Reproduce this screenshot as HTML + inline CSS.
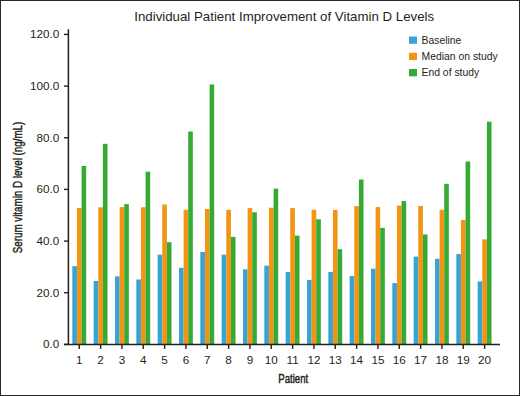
<!DOCTYPE html>
<html><head><meta charset="utf-8"><style>
html,body{margin:0;padding:0;background:#fff;}
body{width:520px;height:396px;overflow:hidden;position:relative;}
svg{position:absolute;left:0;top:0;}
text{font-family:"Liberation Sans",sans-serif;fill:#231F20;}
</style></head><body>
<svg width="520" height="396" viewBox="0 0 520 396">
<rect x="0.5" y="0.5" width="519" height="395" fill="#fff" stroke="#2a2a2a" stroke-width="1"/>
<text x="284.2" y="21.3" text-anchor="middle" font-size="13.27">Individual Patient Improvement of Vitamin D Levels</text>
<g><rect x="72.32" y="266.20" width="4.62" height="78.20" fill="#38A3D9"/><rect x="76.94" y="208.10" width="4.62" height="136.30" fill="#F19512"/><rect x="81.56" y="166.00" width="4.62" height="178.40" fill="#35AB36"/><rect x="93.65" y="281.00" width="4.62" height="63.40" fill="#38A3D9"/><rect x="98.27" y="207.30" width="4.62" height="137.10" fill="#F19512"/><rect x="102.89" y="143.80" width="4.62" height="200.60" fill="#35AB36"/><rect x="114.99" y="276.30" width="4.62" height="68.10" fill="#38A3D9"/><rect x="119.61" y="207.10" width="4.62" height="137.30" fill="#F19512"/><rect x="124.23" y="204.10" width="4.62" height="140.30" fill="#35AB36"/><rect x="136.32" y="279.50" width="4.62" height="64.90" fill="#38A3D9"/><rect x="140.94" y="207.30" width="4.62" height="137.10" fill="#F19512"/><rect x="145.56" y="171.70" width="4.62" height="172.70" fill="#35AB36"/><rect x="157.65" y="254.70" width="4.62" height="89.70" fill="#38A3D9"/><rect x="162.27" y="204.50" width="4.62" height="139.90" fill="#F19512"/><rect x="166.89" y="242.20" width="4.62" height="102.20" fill="#35AB36"/><rect x="178.98" y="267.80" width="4.62" height="76.60" fill="#38A3D9"/><rect x="183.60" y="209.80" width="4.62" height="134.60" fill="#F19512"/><rect x="188.22" y="131.50" width="4.62" height="212.90" fill="#35AB36"/><rect x="200.32" y="252.00" width="4.62" height="92.40" fill="#38A3D9"/><rect x="204.94" y="209.00" width="4.62" height="135.40" fill="#F19512"/><rect x="209.56" y="84.50" width="4.62" height="259.90" fill="#35AB36"/><rect x="221.65" y="254.70" width="4.62" height="89.70" fill="#38A3D9"/><rect x="226.27" y="209.80" width="4.62" height="134.60" fill="#F19512"/><rect x="230.89" y="236.90" width="4.62" height="107.50" fill="#35AB36"/><rect x="242.98" y="269.30" width="4.62" height="75.10" fill="#38A3D9"/><rect x="247.60" y="208.10" width="4.62" height="136.30" fill="#F19512"/><rect x="252.22" y="212.30" width="4.62" height="132.10" fill="#35AB36"/><rect x="264.32" y="265.70" width="4.62" height="78.70" fill="#38A3D9"/><rect x="268.94" y="207.70" width="4.62" height="136.70" fill="#F19512"/><rect x="273.56" y="188.60" width="4.62" height="155.80" fill="#35AB36"/><rect x="285.65" y="272.10" width="4.62" height="72.30" fill="#38A3D9"/><rect x="290.27" y="208.10" width="4.62" height="136.30" fill="#F19512"/><rect x="294.89" y="235.60" width="4.62" height="108.80" fill="#35AB36"/><rect x="306.98" y="279.90" width="4.62" height="64.50" fill="#38A3D9"/><rect x="311.60" y="209.80" width="4.62" height="134.60" fill="#F19512"/><rect x="316.22" y="219.30" width="4.62" height="125.10" fill="#35AB36"/><rect x="328.32" y="271.90" width="4.62" height="72.50" fill="#38A3D9"/><rect x="332.94" y="210.00" width="4.62" height="134.40" fill="#F19512"/><rect x="337.56" y="249.20" width="4.62" height="95.20" fill="#35AB36"/><rect x="349.65" y="276.10" width="4.62" height="68.30" fill="#38A3D9"/><rect x="354.27" y="206.20" width="4.62" height="138.20" fill="#F19512"/><rect x="358.89" y="179.50" width="4.62" height="164.90" fill="#35AB36"/><rect x="370.98" y="268.70" width="4.62" height="75.70" fill="#38A3D9"/><rect x="375.60" y="207.10" width="4.62" height="137.30" fill="#F19512"/><rect x="380.22" y="227.90" width="4.62" height="116.50" fill="#35AB36"/><rect x="392.31" y="283.10" width="4.62" height="61.30" fill="#38A3D9"/><rect x="396.94" y="205.60" width="4.62" height="138.80" fill="#F19512"/><rect x="401.56" y="201.00" width="4.62" height="143.40" fill="#35AB36"/><rect x="413.65" y="256.60" width="4.62" height="87.80" fill="#38A3D9"/><rect x="418.27" y="206.00" width="4.62" height="138.40" fill="#F19512"/><rect x="422.89" y="234.40" width="4.62" height="110.00" fill="#35AB36"/><rect x="434.98" y="258.80" width="4.62" height="85.60" fill="#38A3D9"/><rect x="439.60" y="209.80" width="4.62" height="134.60" fill="#F19512"/><rect x="444.22" y="183.80" width="4.62" height="160.60" fill="#35AB36"/><rect x="456.31" y="254.10" width="4.62" height="90.30" fill="#38A3D9"/><rect x="460.93" y="220.00" width="4.62" height="124.40" fill="#F19512"/><rect x="465.55" y="161.50" width="4.62" height="182.90" fill="#35AB36"/><rect x="477.65" y="281.40" width="4.62" height="63.00" fill="#38A3D9"/><rect x="482.27" y="239.40" width="4.62" height="105.00" fill="#F19512"/><rect x="486.89" y="121.70" width="4.62" height="222.70" fill="#35AB36"/></g>
<g stroke="#231F20" stroke-width="1.4">
<line x1="68.4" y1="29.3" x2="68.4" y2="344.40" stroke-width="1.5"/>
<line x1="64" y1="344.40" x2="500" y2="344.40" stroke-width="1.5"/>
<line x1="64" y1="344.40" x2="68.4" y2="344.40" /><line x1="64" y1="292.74" x2="68.4" y2="292.74" /><line x1="64" y1="241.08" x2="68.4" y2="241.08" /><line x1="64" y1="189.42" x2="68.4" y2="189.42" /><line x1="64" y1="137.76" x2="68.4" y2="137.76" /><line x1="64" y1="86.10" x2="68.4" y2="86.10" /><line x1="64" y1="34.44" x2="68.4" y2="34.44" />
<line x1="79.25" y1="344.40" x2="79.25" y2="349" /><line x1="100.58" y1="344.40" x2="100.58" y2="349" /><line x1="121.92" y1="344.40" x2="121.92" y2="349" /><line x1="143.25" y1="344.40" x2="143.25" y2="349" /><line x1="164.58" y1="344.40" x2="164.58" y2="349" /><line x1="185.91" y1="344.40" x2="185.91" y2="349" /><line x1="207.25" y1="344.40" x2="207.25" y2="349" /><line x1="228.58" y1="344.40" x2="228.58" y2="349" /><line x1="249.91" y1="344.40" x2="249.91" y2="349" /><line x1="271.25" y1="344.40" x2="271.25" y2="349" /><line x1="292.58" y1="344.40" x2="292.58" y2="349" /><line x1="313.91" y1="344.40" x2="313.91" y2="349" /><line x1="335.25" y1="344.40" x2="335.25" y2="349" /><line x1="356.58" y1="344.40" x2="356.58" y2="349" /><line x1="377.91" y1="344.40" x2="377.91" y2="349" /><line x1="399.25" y1="344.40" x2="399.25" y2="349" /><line x1="420.58" y1="344.40" x2="420.58" y2="349" /><line x1="441.91" y1="344.40" x2="441.91" y2="349" /><line x1="463.24" y1="344.40" x2="463.24" y2="349" /><line x1="484.58" y1="344.40" x2="484.58" y2="349" />
</g>
<g font-size="11.7"><text x="59.2" y="348.30" text-anchor="end">0.0</text><text x="59.2" y="296.64" text-anchor="end">20.0</text><text x="59.2" y="244.98" text-anchor="end">40.0</text><text x="59.2" y="193.32" text-anchor="end">60.0</text><text x="59.2" y="141.66" text-anchor="end">80.0</text><text x="59.2" y="90.00" text-anchor="end">100.0</text><text x="59.2" y="38.34" text-anchor="end">120.0</text></g>
<g font-size="11.7"><text x="79.25" y="363.6" text-anchor="middle">1</text><text x="100.58" y="363.6" text-anchor="middle">2</text><text x="121.92" y="363.6" text-anchor="middle">3</text><text x="143.25" y="363.6" text-anchor="middle">4</text><text x="164.58" y="363.6" text-anchor="middle">5</text><text x="185.91" y="363.6" text-anchor="middle">6</text><text x="207.25" y="363.6" text-anchor="middle">7</text><text x="228.58" y="363.6" text-anchor="middle">8</text><text x="249.91" y="363.6" text-anchor="middle">9</text><text x="271.25" y="363.6" text-anchor="middle">10</text><text x="292.58" y="363.6" text-anchor="middle">11</text><text x="313.91" y="363.6" text-anchor="middle">12</text><text x="335.25" y="363.6" text-anchor="middle">13</text><text x="356.58" y="363.6" text-anchor="middle">14</text><text x="377.91" y="363.6" text-anchor="middle">15</text><text x="399.25" y="363.6" text-anchor="middle">16</text><text x="420.58" y="363.6" text-anchor="middle">17</text><text x="441.91" y="363.6" text-anchor="middle">18</text><text x="463.24" y="363.6" text-anchor="middle">19</text><text x="484.58" y="363.6" text-anchor="middle">20</text></g>
<text transform="translate(21.5,187.5) rotate(-90) scale(0.765,1)" text-anchor="middle" font-size="12.8" stroke="#231F20" stroke-width="0.45">Serum vitamin D level (ng/mL)</text>
<text transform="translate(293.2,382.5) scale(0.75,1)" text-anchor="middle" font-size="12.8" stroke="#231F20" stroke-width="0.45">Patient</text>
<rect x="409" y="36.5" width="8" height="7.3" fill="#38A3D9"/>
<rect x="409" y="52.8" width="8" height="7.3" fill="#F19512"/>
<rect x="409" y="69" width="8" height="7.3" fill="#35AB36"/>
<g font-size="10.4">
<text x="421.5" y="43.6">Baseline</text>
<text x="421.5" y="59.8">Median on study</text>
<text x="421.5" y="76.4">End of study</text>
</g>
</svg>
</body></html>
